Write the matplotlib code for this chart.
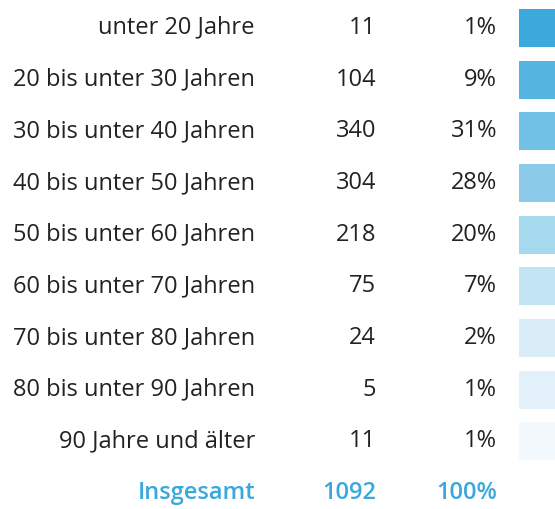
import matplotlib
matplotlib.use("Agg")
import matplotlib.pyplot as plt

labels = ["unter 20 Jahre", "20 bis unter 30 Jahren", "30 bis unter 40 Jahren",
          "40 bis unter 50 Jahren", "50 bis unter 60 Jahren", "60 bis unter 70 Jahren",
          "70 bis unter 80 Jahren", "80 bis unter 90 Jahren", "90 Jahre und älter"]
counts = [11, 104, 340, 304, 218, 75, 24, 5, 11]
shares = [1, 9, 31, 28, 20, 7, 2, 1, 1]
total_label = "Insgesamt"
total_count = 1092
total_share = 100
colors = ["#3ba9dc", "#55b4e0", "#71c0e6", "#8bcbe9", "#a6d8ee",
          "#c2e4f3", "#d7ecf7", "#e2f0f9", "#f3f8fc"]

ACCENT = "#3aa8dc"
TEXT = "#222222"
FONT = "Open Sans"
FS = 17

fig = plt.figure(figsize=(5.55, 5.09), dpi=100)
ax = fig.add_axes([0, 0, 1, 1])
ax.set_xlim(0, 555)
ax.set_ylim(9.308, -0.538)  # row index, top to bottom
ax.axis("off")

rows = list(range(len(labels)))
ax.barh(rows, [37] * len(rows), left=519, height=0.735, color=colors)

for i, (lab, c, s) in enumerate(zip(labels, counts, shares)):
    ax.text(255, i, lab, ha="right", va="center", fontsize=FS, color=TEXT, family=FONT)
    ax.text(376, i, f"{c}", ha="right", va="center", fontsize=FS, color=TEXT, family=FONT)
    ax.text(497, i, f"{s}%", ha="right", va="center", fontsize=FS, color=TEXT, family=FONT)

n = len(labels)
ax.text(255, n, total_label, ha="right", va="center", fontsize=FS, color=ACCENT,
        family=FONT, fontweight="semibold")
ax.text(376, n, f"{total_count}", ha="right", va="center", fontsize=FS, color=ACCENT,
        family=FONT, fontweight="semibold")
ax.text(497, n, f"{total_share}%", ha="right", va="center", fontsize=FS, color=ACCENT,
        family=FONT, fontweight="semibold")

fig.savefig("out.png", dpi=100, facecolor="white")
